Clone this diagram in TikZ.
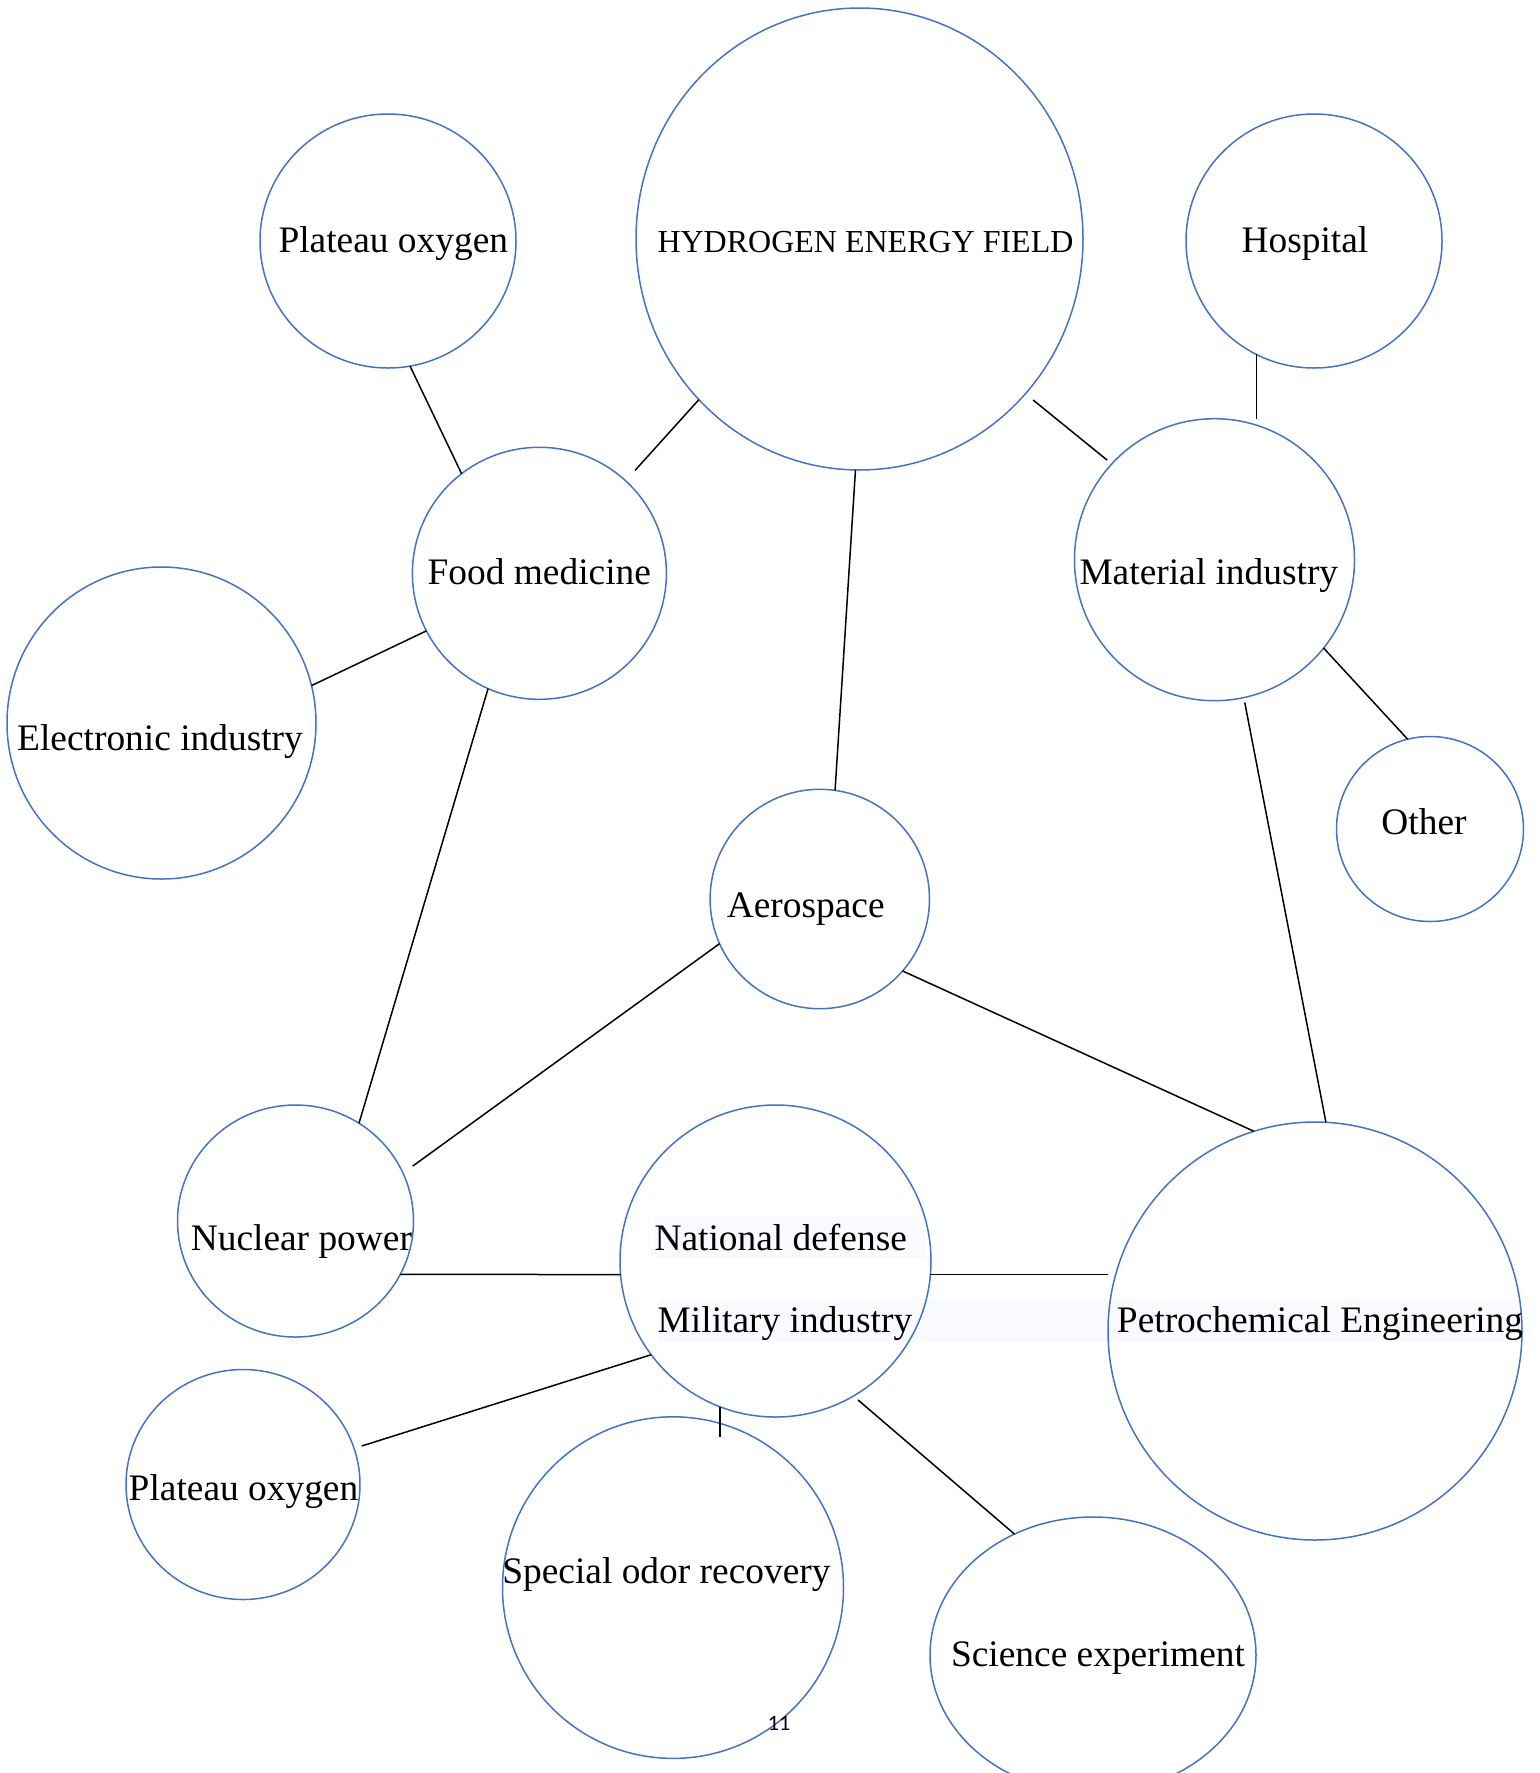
\documentclass[tikz,border=0pt]{standalone}
\usepackage{fontspec}
\setmainfont{Liberation Serif}
\newfontfamily\pagefont{Carlito}
\usetikzlibrary{shapes.geometric}
\definecolor{wordblue}{RGB}{68,114,196}
\definecolor{markbg}{RGB}{249,250,253}

\begin{document}
\begin{tikzpicture}[x=0.5pt,y=-0.5pt,
    bubble/.style={ellipse,draw=wordblue,line width=0.75pt,inner sep=0pt,outer sep=0pt},
    lbl/.style={anchor=base,inner sep=0pt,font=\fontsize{18.7}{22}\selectfont},
    link/.style={line width=0.75pt}]
   \useasboundingbox (0,0) rectangle (1539,1773);
   % faint highlight behind the two lines of text
   \fill[markbg] (655,1216) rectangle (925,1258);
   \fill[markbg] (658,1299) rectangle (1520,1342);
   % circles
   \node[bubble,minimum width=223.5pt,minimum height=231pt] (hyd) at (859.5,239) {};
   \node[bubble,minimum width=128pt,minimum height=127pt] (platA) at (388,241) {};
   \node[bubble,minimum width=128pt,minimum height=127pt] (hosp) at (1314,241) {};
   \node[bubble,minimum width=127pt,minimum height=126pt] (food) at (539.4,573.3) {};
   \node[bubble,minimum width=140pt,minimum height=141pt] (mat) at (1214.5,559.7) {};
   \node[bubble,minimum width=154.5pt,minimum height=156pt] (elec) at (161.5,723) {};
   \node[bubble,minimum width=93.5pt,minimum height=92.5pt] (other) at (1430,829) {};
   \node[bubble,minimum width=109.7pt,minimum height=109.7pt] (aero) at (819.8,899) {};
   \node[bubble,minimum width=118pt,minimum height=116pt] (nuc) at (295.5,1221) {};
   \node[bubble,minimum width=155.5pt,minimum height=156pt] (mil) at (775.5,1261) {};
   \node[bubble,minimum width=207pt,minimum height=209pt] (petro) at (1315,1331) {};
   \node[bubble,minimum width=117pt,minimum height=115pt] (platB) at (243,1484.5) {};
   \node[bubble,minimum width=170.5pt,minimum height=170.8pt] (odor) at (673,1587.6) {};
   \node[bubble,minimum width=163pt,minimum height=138pt] (sci) at (1093,1655) {};
   % texts
   \node[lbl] (hyd_t) at (865.5,252) {\fontsize{16}{19}\selectfont HYDROGEN ENERGY FIELD};
   \node[lbl] (platA_t) at (393.3,252) {Plateau oxygen};
   \node[lbl] (hosp_t) at (1305,252) {Hospital};
   \node[lbl] (food_t) at (539.3,584.3) {Food medicine};
   \node[lbl] (mat_t) at (1208.8,584.3) {Material industry};
   \node[lbl] (elec_t) at (160,750.7) {Electronic industry};
   \node[lbl] (other_t) at (1424,834) {Other};
   \node[lbl] (aero_t) at (805.7,917.3) {Aerospace};
   \node[lbl] (nuc_t) at (301.4,1250) {Nuclear power};
   \node[lbl] (mil_t1) at (780.7,1250) {National defense};
   \node[lbl] (mil_t2) at (785,1332.7) {Military industry};
   \node[lbl] (petro_t) at (1320,1332.7) {Petrochemical Engineering};
   \node[lbl] (platB_t) at (243.5,1500.7) {Plateau oxygen};
   \node[lbl] (odor_t) at (666.4,1583.3) {Special odor recovery};
   \node[lbl] (sci_t) at (1098,1666.7) {Science experiment};
   \node[anchor=base,inner sep=0pt,font=\pagefont\fontsize{11}{13}\selectfont] (pageno) at (779,1730) {11};
   % connectors
   \coordinate (tickend) at (720,1437);
   \path[link]
    (platA.-80) edge (food.128)
    (hyd.225) edge[shorten >=7pt] (food.47)
    (hyd.-43) edge[shorten <=5pt,shorten >=3pt] (mat.137)
    (hyd.-91) edge (aero.82)
    (hosp.-117) edge (hosp.-117 |- mat.north)
    (food.207) edge (elec.14)
    (food.246) edge (nuc.57)
    (mat.-39) edge (other.104)
    (mat.-78) edge[shorten <=2.5pt] (petro.87)
    (aero.204) edge[shorten >=6pt] (nuc.24)
    (aero.-41) edge (petro.107)
    (nuc.-27) edge (mil.185)
    (mil.-5) edge (mil.-5 -| petro.west)
    (mil.217) edge[shorten >=4pt] (platB.18)
    (tickend |- mil.249) edge (tickend)
    (mil.-60) edge[shorten <=3pt] (sci.123);
\end{tikzpicture}
\end{document}
